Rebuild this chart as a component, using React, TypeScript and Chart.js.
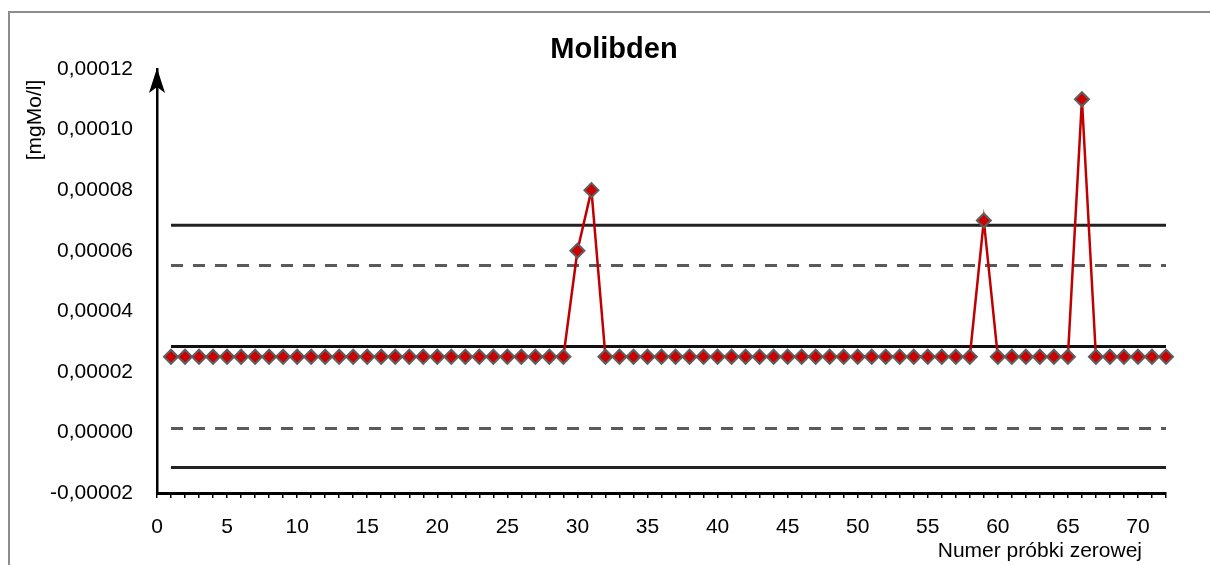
import React, { useEffect, useRef } from "react";
import { Chart, registerables } from "chart.js";

Chart.register(...registerables);

const sampleNumbers: number[] = Array.from({ length: 72 }, (_, i) => i + 1);
const moValues: number[] = [
  0.000025, 0.000025, 0.000025, 0.000025, 0.000025, 0.000025, 0.000025, 0.000025, 0.000025, 0.000025,
  0.000025, 0.000025, 0.000025, 0.000025, 0.000025, 0.000025, 0.000025, 0.000025, 0.000025, 0.000025,
  0.000025, 0.000025, 0.000025, 0.000025, 0.000025, 0.000025, 0.000025, 0.000025, 0.000025, 0.00006,
  0.00008, 0.000025, 0.000025, 0.000025, 0.000025, 0.000025, 0.000025, 0.000025, 0.000025, 0.000025,
  0.000025, 0.000025, 0.000025, 0.000025, 0.000025, 0.000025, 0.000025, 0.000025, 0.000025, 0.000025,
  0.000025, 0.000025, 0.000025, 0.000025, 0.000025, 0.000025, 0.000025, 0.000025, 0.00007, 0.000025,
  0.000025, 0.000025, 0.000025, 0.000025, 0.000025, 0.00011, 0.000025, 0.000025, 0.000025, 0.000025,
  0.000025, 0.000025,
];
const lineRange: number[] = [1, 72];
const centerLine = 0.0000284;
const upperControl = 0.0000684;
const lowerControl = -0.0000116;
const upperWarning = 0.0000551;
const lowerWarning = 0.0000013;

const titleText = "Molibden";
const yTitle = "[mgMo/l]";
const xTitle = "Numer próbki zerowej";

const FONT = '"Liberation Sans", Arial, sans-serif';

const decorPlugin = {
  id: "decor",
  beforeDraw(chart: any) {
    const ctx = chart.ctx;
    ctx.save();
    ctx.fillStyle = "#ffffff";
    ctx.fillRect(0, 0, chart.width, chart.height);
    ctx.strokeStyle = "#8c8c8c";
    ctx.lineWidth = 2;
    ctx.beginPath();
    ctx.moveTo(9, chart.height + 5);
    ctx.lineTo(9, 12);
    ctx.lineTo(chart.width + 5, 12);
    ctx.stroke();
    ctx.restore();
  },
  afterDraw(chart: any) {
    const ctx = chart.ctx;
    const area = chart.chartArea;
    ctx.save();
    const ax = area.left;
    const top = area.top - 1;
    ctx.fillStyle = "#000";
    ctx.beginPath();
    ctx.moveTo(ax, top);
    ctx.lineTo(ax - 8, top + 25);
    ctx.lineTo(ax, top + 19);
    ctx.lineTo(ax + 8, top + 25);
    ctx.closePath();
    ctx.fill();
    ctx.fillStyle = "#000";
    ctx.font = "bold 29px " + FONT;
    ctx.textAlign = "center";
    ctx.textBaseline = "middle";
    ctx.fillText(titleText, 614, 50);
    ctx.font = "21px " + FONT;
    ctx.save();
    ctx.translate(35, 120);
    ctx.rotate(-Math.PI / 2);
    ctx.fillText(yTitle, 0, 0);
    ctx.restore();
    ctx.textAlign = "right";
    ctx.fillText(xTitle, 1142, 551);
    ctx.restore();
  },
};

function fmt(v: number): string {
  const n = Math.abs(v) < 1e-12 ? 0 : v;
  return n.toFixed(5).replace(".", ",");
}

export default function App() {
  const ref = useRef<HTMLCanvasElement | null>(null);
  useEffect(() => {
    if (!ref.current) return;
    const mk = (v: number) => lineRange.map((x) => ({ x, y: v }));
    const chart = new Chart(ref.current, {
      type: "line",
      data: {
        datasets: [
          {
            label: "Mo",
            data: sampleNumbers.map((x, i) => ({ x, y: moValues[i] })),
            borderColor: "#c00000",
            borderWidth: 2.5,
            pointStyle: "rectRot",
            pointRadius: 7,
            pointBackgroundColor: "#cc0000",
            pointBorderColor: "#5f5f5f",
            pointBorderWidth: 2,
            tension: 0,
            clip: false,
            order: 0,
          },
          { label: "UCL", data: mk(upperControl), borderColor: "#222", borderWidth: 3, pointRadius: 0, order: 1 },
          { label: "CL", data: mk(centerLine), borderColor: "#111", borderWidth: 3, pointRadius: 0, order: 1 },
          { label: "LCL", data: mk(lowerControl), borderColor: "#222", borderWidth: 3, pointRadius: 0, order: 1 },
          { label: "UWL", data: mk(upperWarning), borderColor: "#5a5a5a", borderWidth: 3, borderDash: [12, 10], pointRadius: 0, order: 1 },
          { label: "LWL", data: mk(lowerWarning), borderColor: "#5a5a5a", borderWidth: 3, borderDash: [12, 10], pointRadius: 0, order: 1 },
        ] as any,
      },
      options: {
        responsive: false,
        animation: false,
        events: [],
        layout: { padding: { left: 0, top: 69, right: 44, bottom: 0 } },
        plugins: { legend: { display: false }, title: { display: false }, tooltip: { enabled: false } },
        scales: {
          x: {
            type: "linear",
            min: 0,
            max: 72,
            afterFit: (s: any) => { s.height = 72; },
            ticks: {
              stepSize: 1,
              autoSkip: false,
              maxRotation: 0,
              padding: 17,
              color: "#000",
              font: { family: FONT, size: 21 },
              callback: (v: any) => (Number(v) % 5 === 0 ? String(v) : ""),
            },
            grid: { display: true, drawOnChartArea: false, drawTicks: true, tickLength: 5, color: "#000", lineWidth: 1.5 },
            border: { display: true, color: "#000", width: 3 },
          },
          y: {
            type: "linear",
            min: -0.00002,
            max: 0.00012,
            afterFit: (s: any) => { s.width = 157; },
            ticks: {
              stepSize: 0.00002,
              padding: 24,
              color: "#000",
              font: { family: FONT, size: 21 },
              callback: (v: any) => fmt(Number(v)),
            },
            grid: { display: false, drawTicks: false },
            border: { display: true, color: "#000", width: 2.5 },
          },
        },
      },
      plugins: [decorPlugin],
    } as any);
    return () => chart.destroy();
  }, []);
  return (
    <div style={{ position: "absolute", left: 0, top: 0, width: 1210, height: 565 }}>
      <canvas ref={ref} width={1210} height={565} style={{ display: "block" }} />
    </div>
  );
}
